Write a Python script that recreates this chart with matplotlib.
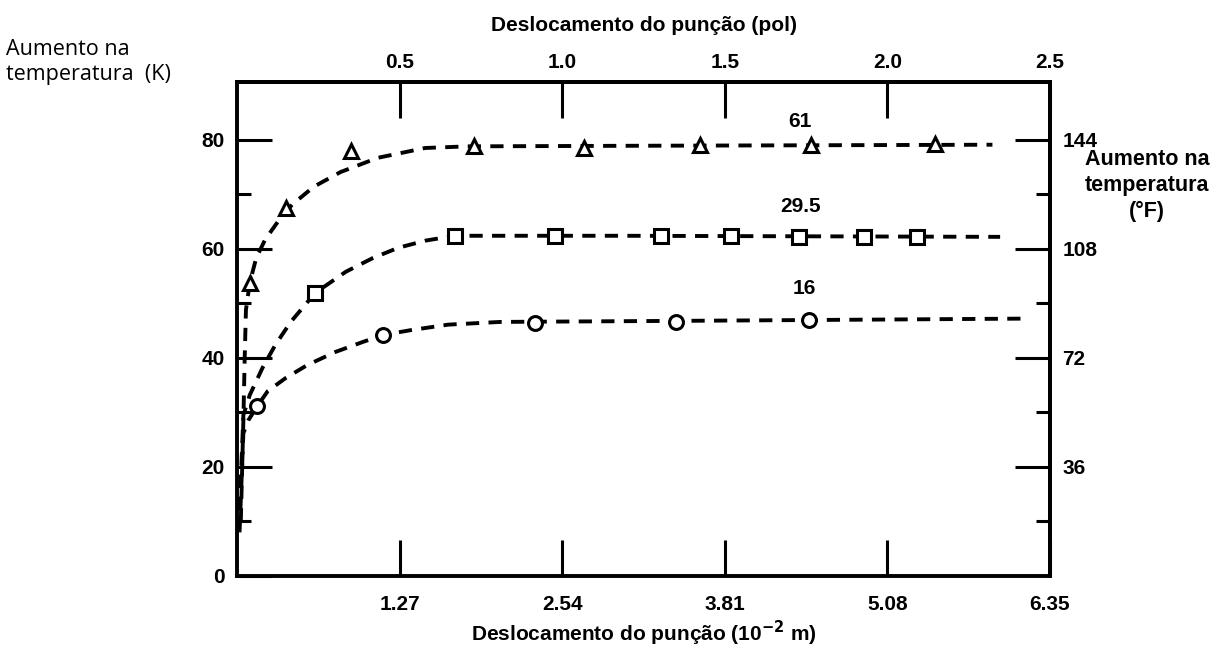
import matplotlib
matplotlib.use("Agg")
import matplotlib.pyplot as plt
from matplotlib.ticker import FixedLocator, NullFormatter

# Punch displacement (10^-2 m) and temperature rise (K) for three conditions
tri_x = [0.10, 0.38, 0.89, 1.85, 2.71, 3.62, 4.48, 5.45]
tri_y = [53.8, 67.5, 78.0, 78.9, 78.5, 79.1, 79.1, 79.3]

sq_x = [0.61, 1.70, 2.48, 3.31, 3.86, 4.39, 4.90, 5.31]
sq_y = [51.9, 62.4, 62.4, 62.4, 62.4, 62.2, 62.2, 62.2]

ci_x = [0.16, 1.14, 2.33, 3.43, 4.47]
ci_y = [31.2, 44.2, 46.4, 46.6, 47.0]

# Hand-drawn trend curves through each data set
tri_cx = [0.03, 0.05, 0.06, 0.07, 0.10, 0.15, 0.22, 0.32, 0.43, 0.60, 0.81, 1.10, 1.47, 1.80, 3.00, 4.50, 5.90]
tri_cy = [10.0, 28.6, 39.6, 48.8, 53.8, 58.3, 61.7, 65.0, 68.1, 71.4, 74.1, 76.7, 78.5, 78.8, 78.9, 79.0, 79.1]

sq_cx = [0.02, 0.05, 0.10, 0.20, 0.30, 0.42, 0.61, 0.85, 1.06, 1.26, 1.47, 1.70, 3.00, 4.50, 5.96]
sq_cy = [12.0, 29.5, 33.2, 38.2, 42.4, 46.6, 51.9, 55.8, 58.3, 60.2, 61.5, 62.4, 62.4, 62.3, 62.2]

ci_cx = [0.02, 0.05, 0.09, 0.16, 0.24, 0.38, 0.55, 0.77, 0.98, 1.14, 1.36, 1.65, 2.06, 3.50, 6.12]
ci_cy = [8.0, 26.2, 28.6, 31.2, 33.9, 36.3, 38.7, 41.1, 42.9, 44.2, 45.1, 46.1, 46.6, 46.8, 47.2]

curve_labels = ["61", "29.5", "16"]
label_x = [4.40, 4.40, 4.43]
label_y = [83.3, 67.7, 52.7]

# Axis scales
x_ticks_cm = [1.27, 2.54, 3.81, 5.08, 6.35]
x_tick_labels_cm = ["1.27", "2.54", "3.81", "5.08", "6.35"]
x_tick_labels_in = ["0.5", "1.0", "1.5", "2.0", "2.5"]
y_ticks_k = [0, 20, 40, 60, 80]
y_minor_k = [10, 30, 50, 70]
y_ticks_f = [36, 72, 108, 144]
y_minor_f = [18, 54, 90, 126]

X_MAX = 6.35
Y_MAX = 90.6
K_TO_F = 1.8

bold_narrow = ["Liberation Sans Narrow", "Liberation Sans", "DejaVu Sans"]

fig = plt.figure(figsize=(12.19, 6.52), dpi=100)
ax = fig.add_axes([0.1944, 0.1166, 0.6670, 0.7576])

line_kw = dict(color="black", lw=2.8, dashes=(3.4, 2.4), zorder=2)
ax.plot(tri_cx, tri_cy, **line_kw)
ax.plot(sq_cx, sq_cy, **line_kw)
ax.plot(ci_cx, ci_cy, **line_kw)

mk_kw = dict(ls="none", mfc="white", mec="black", mew=2.2, zorder=3)
ax.plot(tri_x, tri_y, marker="^", ms=10, **mk_kw)
ax.plot(sq_x, sq_y, marker="s", ms=9.5, **mk_kw)
ax.plot(ci_x, ci_y, marker="o", ms=10, **mk_kw)

for txt, lx, ly in zip(curve_labels, label_x, label_y):
    ax.text(lx, ly, txt, ha="center", va="center", fontsize=15,
            fontweight="bold", family=bold_narrow)

ax.set_xlim(0, X_MAX)
ax.set_ylim(0, Y_MAX)

for s in ax.spines.values():
    s.set_linewidth(2.8)

# Bottom (metric) and left (K) scales
ax.xaxis.set_major_locator(FixedLocator(x_ticks_cm))
ax.set_xticklabels(x_tick_labels_cm)
ax.yaxis.set_major_locator(FixedLocator(y_ticks_k))
ax.yaxis.set_minor_locator(FixedLocator(y_minor_k))
ax.yaxis.set_minor_formatter(NullFormatter())
ax.tick_params(axis="x", which="major", direction="in", length=26, width=2.2, pad=14)
ax.tick_params(axis="y", which="major", direction="in", length=25, width=2.2, pad=9)
ax.tick_params(axis="y", which="minor", direction="in", length=10, width=2.2)
for lab in ax.get_xticklabels() + ax.get_yticklabels():
    lab.set_fontsize(15)
    lab.set_fontweight("bold")
    lab.set_family(bold_narrow)

ax.set_xlabel("Deslocamento do punção (10$^{\\mathbf{-2}}$ m)", fontsize=15,
              fontweight="bold", family=bold_narrow, labelpad=3)

# Top scale in inches
top = ax.secondary_xaxis("top", functions=(lambda v: v / 2.54, lambda v: v * 2.54))
top.set_xticks([v / 2.54 for v in x_ticks_cm])
top.set_xticklabels(x_tick_labels_in)
top.spines["top"].set_linewidth(2.8)
top.tick_params(direction="in", length=26, width=2.2, pad=7)
for lab in top.get_xticklabels():
    lab.set_fontsize(15)
    lab.set_fontweight("bold")
    lab.set_family(bold_narrow)
top.set_xlabel("Deslocamento do punção (pol)", fontsize=15, fontweight="bold",
               family=bold_narrow, labelpad=16)

# Right scale in degrees Fahrenheit
right = ax.secondary_yaxis("right", functions=(lambda v: v * K_TO_F, lambda v: v / K_TO_F))
right.set_yticks(y_ticks_f)
right.set_yticks(y_minor_f, minor=True)
right.yaxis.set_minor_formatter(NullFormatter())
right.spines["right"].set_linewidth(2.8)
right.tick_params(which="major", direction="in", length=25, width=2.2, pad=9)
right.tick_params(which="minor", direction="in", length=10, width=2.2)
for lab in right.get_yticklabels():
    lab.set_fontsize(15)
    lab.set_fontweight("bold")
    lab.set_family(bold_narrow)

fig.text(0.005, 0.905, "Aumento na\ntemperatura  (K)", ha="left", va="center",
         fontsize=15.5, family=["Open Sans", "DejaVu Sans"], linespacing=1.2)
fig.text(0.941, 0.716, "Aumento na\ntemperatura\n(°F)", ha="center", va="center",
         fontsize=15.5, fontweight="bold", family=["Liberation Sans", "DejaVu Sans"],
         linespacing=1.3)

fig.savefig("out.png", dpi=100)
